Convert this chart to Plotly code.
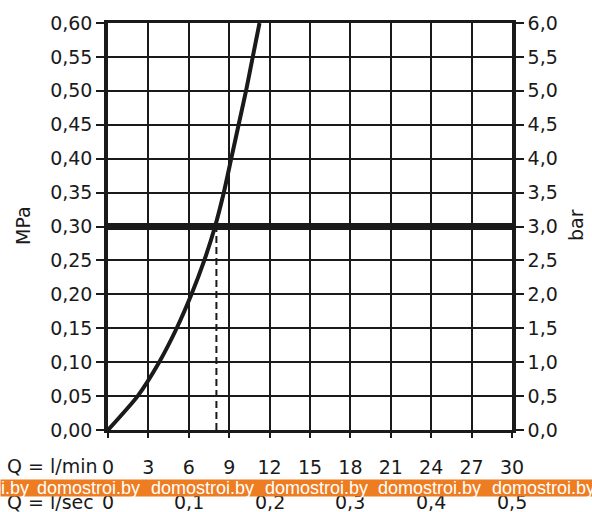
import plotly.graph_objects as go

# pressure loss curve, Q in l/min vs p in MPa
q_lmin = [0, 2.2, 3.8, 5.1, 6.2, 7.15, 7.95, 8.6, 9.15, 9.7, 10.25, 10.75, 11.25]
p_mpa = [0, 0.05, 0.10, 0.15, 0.20, 0.25, 0.30, 0.35, 0.40, 0.45, 0.50, 0.55, 0.60]

p_ref = 0.30  # bold reference line
q_ref = 8.05  # dashed drop line at the reference pressure

x_ticks = [0, 3, 6, 9, 12, 15, 18, 21, 24, 27, 30]
y_ticks = [0, 0.05, 0.10, 0.15, 0.20, 0.25, 0.30, 0.35, 0.40, 0.45, 0.50, 0.55, 0.60]
y_labels = ["0,00", "0,05", "0,10", "0,15", "0,20", "0,25", "0,30",
            "0,35", "0,40", "0,45", "0,50", "0,55", "0,60"]
bar_ticks = [0, 0.5, 1, 1.5, 2, 2.5, 3, 3.5, 4, 4.5, 5, 5.5, 6]
bar_labels = ["0,0", "0,5", "1,0", "1,5", "2,0", "2,5", "3,0",
              "3,5", "4,0", "4,5", "5,0", "5,5", "6,0"]
sec_ticks = [0, 0.1, 0.2, 0.3, 0.4, 0.5]
sec_labels = ["0", "0,1", "0,2", "0,3", "0,4", "0,5"]

W, H = 592, 512
L, R, T, B = 108, 512, 21, 430
FONT = "DejaVu Sans"
INK = "#1a1a1a"
ORANGE = "#ee7d22"


def px_x(px):
    return (px - L) / (R - L)


def px_y(py):
    return (B - py) / (B - T)


fig = go.Figure()

fig.add_trace(go.Scatter(
    x=[q_ref, q_ref], y=[0, p_ref], mode="lines",
    line=dict(color=INK, width=2, dash="7px,4px"), hoverinfo="skip",
))
fig.add_trace(go.Scatter(
    x=[x_ticks[0], x_ticks[-1]], y=[p_ref, p_ref], mode="lines",
    line=dict(color=INK, width=7), hoverinfo="skip",
))
fig.add_trace(go.Scatter(
    x=q_lmin, y=p_mpa, mode="lines",
    line=dict(color=INK, width=4, shape="spline", smoothing=0.6),
    hoverinfo="skip",
))
# invisible trace to activate the bar axis
fig.add_trace(go.Scatter(
    x=[0], y=[0], yaxis="y2", mode="markers",
    marker=dict(opacity=0), hoverinfo="skip",
))

annotations = [
    dict(text="MPa", textangle=-90, x=px_x(23), y=px_y(225)),
    dict(text="bar", textangle=-90, x=px_x(576), y=px_y(224)),
    dict(text="Q = l/min", x=px_x(5), y=px_y(466), xanchor="left"),
    dict(text="Q = l/sec", x=px_x(5), y=px_y(502), xanchor="left"),
]
for v, t in zip(sec_ticks, sec_labels):
    annotations.append(dict(text=t, x=px_x(L + v * 60 / 30 * (R - L)), y=px_y(502)))

# watermark band on top of the l/sec row
annotations.append(dict(
    text="\u00a0", x=px_x(0), y=px_y(488), xanchor="left",
    width=W + 4, height=16, bgcolor=ORANGE, borderpad=0,
))
for start in [-76, 35, 149, 263, 376, 490]:
    annotations.append(dict(
        text="domostroi.by", x=px_x(start), y=px_y(488), xanchor="left",
        font=dict(family="Liberation Sans", size=18, color="white"),
    ))

for a in annotations:
    a.setdefault("xref", "paper")
    a.setdefault("yref", "paper")
    a.setdefault("showarrow", False)
    a.setdefault("xanchor", "center")
    a.setdefault("yanchor", "middle")
    a.setdefault("font", dict(family=FONT, size=19, color=INK))

axis_common = dict(
    showline=True, linecolor=INK, ticks="outside",
    tickcolor=INK, tickwidth=2, zeroline=False,
)

fig.update_layout(
    width=W, height=H,
    margin=dict(l=L, r=W - R, t=T, b=H - B),
    paper_bgcolor="white", plot_bgcolor="white",
    showlegend=False,
    font=dict(family=FONT, size=19, color=INK),
    xaxis=dict(
        range=[0, 30], tickvals=x_ticks, ticklen=5, linewidth=3, mirror=True,
        showgrid=True, gridcolor=INK, gridwidth=2, ticklabelstandoff=13,
        **axis_common,
    ),
    yaxis=dict(
        range=[0, 0.6], tickvals=y_ticks, ticktext=y_labels, ticklen=8,
        linewidth=3.5, showgrid=True, gridcolor=INK, gridwidth=2,
        **axis_common,
    ),
    yaxis2=dict(
        range=[0, 6], tickvals=bar_ticks, ticktext=bar_labels, ticklen=8,
        linewidth=3.5, overlaying="y", side="right", showgrid=False,
        **axis_common,
    ),
    annotations=annotations,
)

fig.write_html(
    "out.html",
    config={"displayModeBar": False},
    post_script="document.body.style.margin='0';",
)
